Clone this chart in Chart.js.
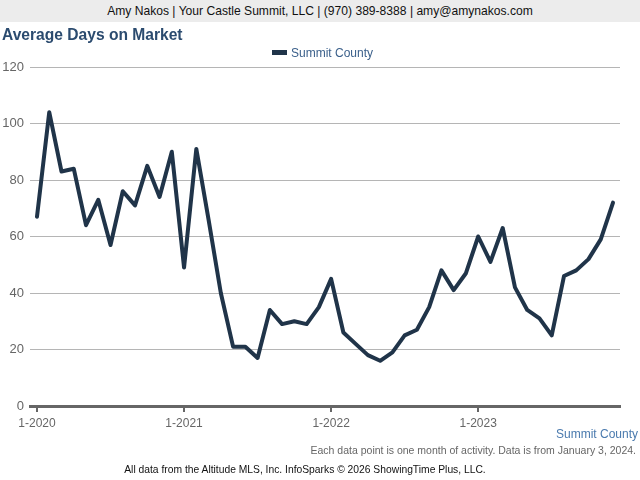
<!DOCTYPE html>
<html>
<head>
<meta charset="utf-8">
<script src="https://cdn.jsdelivr.net/npm/chart.js@4.4.1/dist/chart.umd.min.js"></script>
<style>
  html, body { margin:0; padding:0; background:#fff; }
  #wrap { position:relative; width:640px; height:480px; overflow:hidden; font-family:"Liberation Sans", Arial, Helvetica, sans-serif; }
  #banner { position:absolute; left:0; top:0; width:640px; height:22px; background:#ececec; color:#111; font-size:12.1px; line-height:22px; text-align:center; }
  #title { position:absolute; left:2px; top:26px; font-size:15.6px; font-weight:bold; color:#2b4b6f; }
  #c { position:absolute; left:0; top:0; }
  #legend { position:absolute; left:272px; top:45px; height:16px; line-height:16px; font-size:12px; color:#3a5f8a; white-space:nowrap; }
  #legend .sw { display:inline-block; width:15px; height:5px; background:#203449; vertical-align:middle; margin-right:4px; position:relative; top:-1px; }
  #series { position:absolute; right:2px; top:427px; font-size:12px; color:#4a7aae; }
  #note { position:absolute; right:4px; top:444px; font-size:10.5px; color:#666; }
  #src { position:absolute; left:0; width:610px; top:464px; font-size:10.3px; color:#111; text-align:center; }
</style>
</head>
<body>
<div id="wrap">
  <canvas id="c" width="640" height="480"></canvas>
  <div id="banner">Amy Nakos | Your Castle Summit, LLC | (970) 389-8388 | amy@amynakos.com</div>
  <div id="title">Average Days on Market</div>
  <div id="legend"><span class="sw"></span><span id="legendText"></span></div>
  <div id="series">Summit County</div>
  <div id="note">Each data point is one month of activity. Data is from January 3, 2024.</div>
  <div id="src">All data from the Altitude MLS, Inc. InfoSparks © 2026 ShowingTime Plus, LLC.</div>
</div>
<script>
const months = [
  "1-2020","2-2020","3-2020","4-2020","5-2020","6-2020","7-2020","8-2020","9-2020","10-2020","11-2020","12-2020",
  "1-2021","2-2021","3-2021","4-2021","5-2021","6-2021","7-2021","8-2021","9-2021","10-2021","11-2021","12-2021",
  "1-2022","2-2022","3-2022","4-2022","5-2022","6-2022","7-2022","8-2022","9-2022","10-2022","11-2022","12-2022",
  "1-2023","2-2023","3-2023","4-2023","5-2023","6-2023","7-2023","8-2023","9-2023","10-2023","11-2023","12-2023"
];
const seriesName = "Summit County";
const summitCounty = [
  67,104,83,84,64,73,57,76,71,85,74,90,
  49,91,66,40,21,21,17,34,29,30,29,35,
  45,26,22,18,16,19,25,27,35,48,41,47,
  60,51,63,42,34,31,25,46,48,52,59,72
];
const xTickLabels = ["1-2020","1-2021","1-2022","1-2023"];
const yTicks = [0,20,40,60,80,100,120];

document.getElementById('legendText').textContent = seriesName;

const points = summitCounty.map((v,i)=>({x:i, y:v}));
const font = "'Liberation Sans', Arial, Helvetica, sans-serif";

new Chart(document.getElementById('c'), {
  type: 'line',
  data: {
    datasets: [{
      label: seriesName,
      data: points,
      borderColor: '#203449',
      backgroundColor: '#203449',
      borderWidth: 4,
      pointRadius: 0,
      tension: 0,
      borderJoinStyle: 'round',
      borderCapStyle: 'round'
    }]
  },
  options: {
    responsive: false,
    animation: false,
    devicePixelRatio: 1,
    layout: { padding: { top: 67, left: 0, right: 0, bottom: 0 } },
    plugins: {
      title: { display: false },
      tooltip: { enabled: false },
      legend: { display: false }
    },
    scales: {
      x: {
        type: 'linear',
        min: -0.57, max: 47.57,
        afterBuildTicks: (s) => { s.ticks = xTickLabels.map(l => ({ value: months.indexOf(l) })); },
        afterFit: (s) => { s.height = 74; },
        ticks: {
          autoSkip: false, maxRotation: 0,
          color: '#666',
          font: { family: font, size: 12 },
          padding: 4,
          callback: (v) => months[v]
        },
        grid: { display: true, drawOnChartArea: false, drawTicks: true, tickLength: 6, color: '#666', lineWidth: 2 },
        border: { display: true, color: '#666', width: 3 }
      },
      y: {
        min: 0, max: 120,
        afterBuildTicks: (s) => { s.ticks = yTicks.map(v => ({ value: v })); },
        afterFit: (s) => { s.width = 30; },
        ticks: {
          color: '#666',
          font: { family: font, size: 13 },
          padding: 6
        },
        grid: { color: '#b5b5b5', lineWidth: 1, drawTicks: false },
        border: { display: false }
      },
      yRight: {
        position: 'right',
        display: true,
        afterFit: (s) => { s.width = 20; },
        ticks: { display: false },
        grid: { display: false, drawTicks: false },
        border: { display: false }
      }
    }
  }
});
</script>
</body>
</html>
